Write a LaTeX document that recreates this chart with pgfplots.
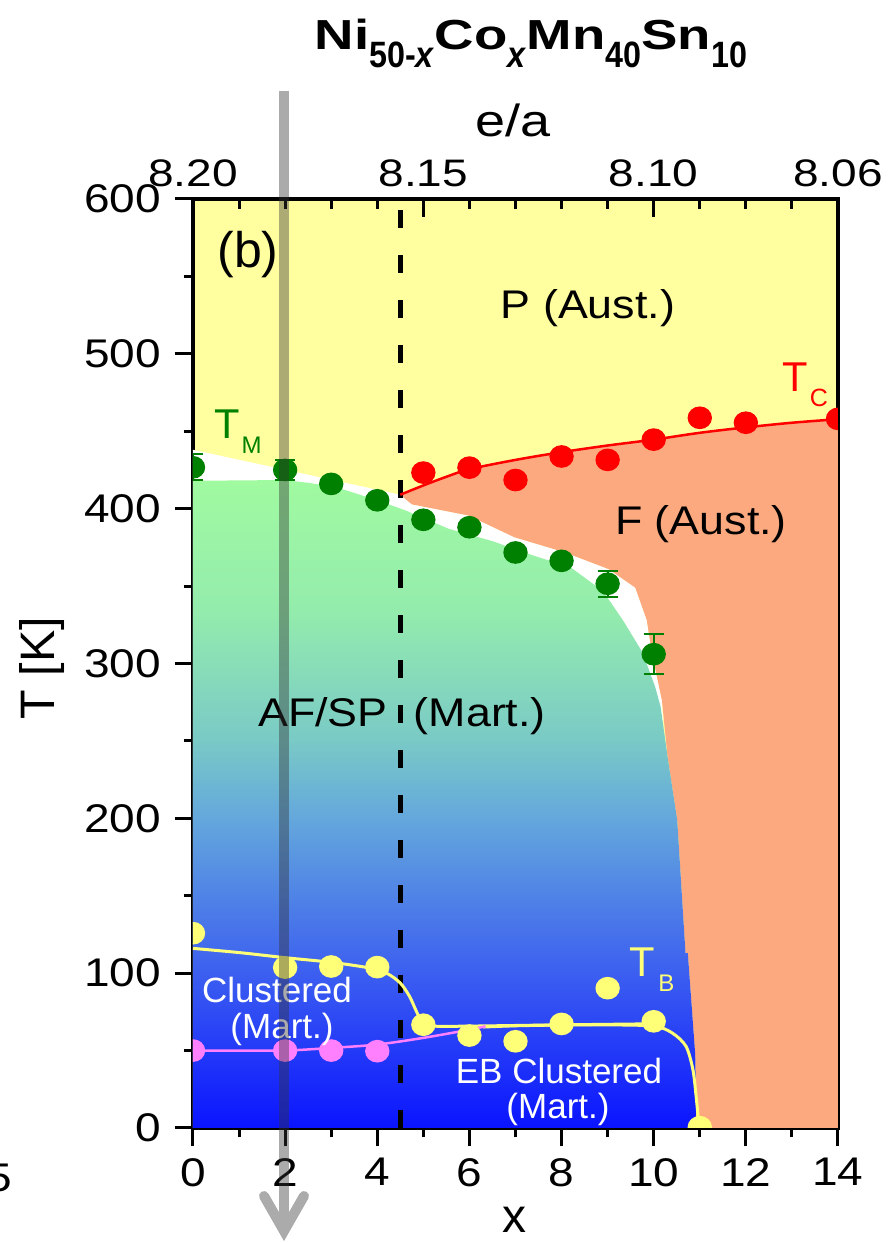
\documentclass[border=0pt]{standalone}
\usepackage{fontspec}
\setmainfont{Liberation Sans}
\usepackage{graphicx}
\usepackage{pgfplots}
\pgfplotsset{compat=1.18}

\definecolor{ybg}{RGB}{255,255,160}
\definecolor{salmon}{RGB}{252,169,127}
\definecolor{dgreen}{RGB}{0,128,0}
\definecolor{tby}{RGB}{255,255,119}
\definecolor{pinkc}{RGB}{255,128,255}
\definecolor{barc}{RGB}{51,51,51}
\definecolor{arrc}{RGB}{171,171,171}
\definecolor{g0}{RGB}{10,20,255}
\definecolor{g1}{RGB}{60,95,240}
\definecolor{g2}{RGB}{100,168,220}
\definecolor{g3}{RGB}{122,202,198}
\definecolor{g4}{RGB}{148,236,172}
\definecolor{g5}{RGB}{160,250,160}
\pgfdeclareverticalshading{mart}{100bp}{color(0bp)=(g0); color(25bp)=(g0); color(37bp)=(g1); color(49bp)=(g2); color(55bp)=(g3); color(65bp)=(g4); color(75bp)=(g5); color(100bp)=(g5)}

\newcommand{\tsub}[1]{\raisebox{-5.4pt}{\fontsize{11}{11}\selectfont\bfseries\scalebox{0.88}[1]{#1}}}
\newcommand{\tbig}[1]{\scalebox{1.3}[1]{#1}}

\begin{document}
\begin{tikzpicture}
\begin{axis}[
  at={(0,0)}, anchor=south west,
  scale only axis, width=193.5pt, height=278.7pt,
  xmin=0, xmax=14, ymin=0, ymax=600,
  axis background/.style={fill=ybg},
  axis line style={line width=1.3pt, black},
  xtick={0,2,...,14}, minor x tick num=1,
  ytick={0,100,...,600}, minor y tick num=1,
  xtick pos=bottom, ytick pos=left,
  tick align=outside,
  major tick length=5.5pt, minor tick length=2.8pt,
  every tick/.append style={black, line width=0.9pt},
  every minor tick/.append style={black, line width=0.9pt},
  tick label style={font=\fontsize{12}{12}\selectfont, xscale=1.15},
  /pgf/number format/assume math mode=true,
  clip marker paths=true,
]
% white band
\addplot[draw=none, fill=white] coordinates {(0,438) (4.5,409) (4.75,402.8) (5.98,395.6) (6.98,381.5) (8.05,372) (9.02,361) (9.6,349) (9.85,328) (9.96,307) (10.18,276) (10.6,0) (0,0)} -- cycle;
% salmon F region
\addplot[draw=none, fill=salmon] coordinates {(4.5,409) (5,415) (5.5,420.6) (6,425.5) (7,431.5) (8,436.5) (9,440.8) (10,444.6) (11,449) (12,452.5) (13,455.5) (14,457.8) (14,0) (10.93,0) (10.9,48) (10.74,113) (10.69,113) (10.51,199) (10.3,240) (10.18,276) (9.96,307) (9.85,328) (9.6,349) (9.02,361) (8.05,372) (6.98,381.5) (5.98,395.6) (4.75,402.8)} -- cycle;
% gradient martensite region
\addplot[draw=none, shading=mart] coordinates {(0,418) (2,418.5) (2.6,416.3) (3.2,413) (4,405.4) (4.6,399) (5.55,387) (6.5,379) (7.4,369.6) (8.2,362) (8.9,346.7) (9.33,328) (9.76,307) (10.03,285) (10.15,272) (10.3,240) (10.51,199) (10.69,113) (10.74,113) (10.9,48) (10.93,0) (0,0)} -- cycle;
% dashed line
\addplot[black, line width=1.5pt, dash pattern=on 5.4pt off 8.1pt] coordinates {(4.5,0) (4.5,600)};
% curves
\addplot[red, line width=0.75pt, smooth] coordinates {(4.5,409) (5,415) (5.5,420.6) (6,425.5) (7,431.5) (8,436.5) (9,440.8) (10,444.6) (11,449) (12,452.5) (13,455.5) (14,457.8)};
\addplot[tby, line width=0.9pt, smooth, tension=0.5] coordinates {(0,116) (1,113.3) (2,110) (3,107) (3.8,103.5) (4.2,100) (4.5,93.6) (4.7,85) (4.85,75.3) (5,67) (5.3,65.7) (6,65.8) (8,66.6) (10,67.3)};
\addplot[tby, line width=0.9pt, smooth, tension=0.5] coordinates {(6.3,65.2) (7,66) (8,66.5) (9,66.6) (10,65.8) (10.4,61.4) (10.7,52.8) (10.85,37.8) (10.92,20.6) (10.97,5.6) (11,0)};
\addplot[pinkc, line width=0.75pt, smooth] coordinates {(0,50) (1,50) (2,50) (3,51.7) (4,53.9) (5,58.2) (6,63.5) (6.35,65.7)};
% T_M points
\addplot[only marks, mark=*, mark size=3.2pt, mark options={fill=dgreen, draw=dgreen, xscale=1.08}] coordinates {(3,416) (4,405.4) (5,392.8) (6,388) (7,371.7) (8,366.3)};
\addplot[only marks, mark=*, mark size=3.2pt, mark options={fill=dgreen, draw=dgreen, xscale=1.08},
  error bars/.cd, y dir=both, y explicit,
  error bar style={dgreen, line width=0.6pt},
  error mark options={rotate=90, mark size=3pt, dgreen, line width=0.6pt}]
  coordinates {(0,426.7) +- (0,8.5) (2,425) +- (0,6.3) (9,351.5) +- (0,8.5) (10,306) +- (0,13)};
% T_C points
\addplot[only marks, mark=*, mark size=3.2pt, mark options={fill=red, draw=red, xscale=1.08}] coordinates {(5,423.3) (6,426.5) (7,418.5) (8,433.7) (9,431.5) (10,444.6) (11,458.7) (12,455.5) (14,458)};
% T_B points
\addplot[only marks, mark=*, mark size=3.2pt, mark options={fill=tby, draw=tby, xscale=1.08}] coordinates {(0,125.8) (2,103.6) (3,104.3) (4,103.9) (5,66.7) (6,59.7) (7,56) (8,67.2) (9,90.3) (10,68.9) (11,0.5)};
% pink points
\addplot[only marks, mark=*, mark size=3.2pt, mark options={fill=pinkc, draw=pinkc, xscale=1.08}] coordinates {(0,50) (2,50) (3,50) (4,49.6)};
\end{axis}

\begin{axis}[
  at={(0,0)}, anchor=south west,
  scale only axis, width=193.5pt, height=278.7pt,
  xmin=0, xmax=14, ymin=0, ymax=600,
  axis x line*=top, axis y line=none,
  axis line style={line width=1.3pt, black},
  xtick={0,5,10,14}, xticklabels={8.20,8.15,8.10,8.06},
  minor xtick={1,2,3,4,6,7,8,9,11,12,13},
  tick align=inside,
  major tick length=5.4pt, minor tick length=3pt,
  every tick/.append style={black, line width=0.9pt},
  every minor tick/.append style={black, line width=0.9pt},
  tick label style={font=\fontsize{11.5}{11.5}\selectfont, xscale=1.2},
]
\addplot[draw=none] coordinates {(0,0)};
\end{axis}

\begin{scope}[shift={(-57.9pt,338.4pt)}, x=0.3pt, y=-0.3pt]
% title and labels
\node[anchor=base west, inner sep=0] at (314,50) {\fontsize{12.6}{12.6}\selectfont\bfseries \tbig{Ni}\tsub{50-\textit{x}}\tbig{Co}\tsub{\textit{x}}\tbig{Mn}\tsub{40}\tbig{Sn}\tsub{10}};
\node[anchor=base, xscale=1.2] at (513,136.7) {\fontsize{13.5}{13.5}\selectfont e/a};
\node[anchor=base] at (514,1233) {\fontsize{14.4}{14.4}\selectfont x};
\node[rotate=90] at (42.5,668) {\fontsize{14.5}{14.5}\selectfont T [K]};
\node[anchor=east, inner sep=0, xscale=1.15] at (13,1178) {\fontsize{12}{12}\selectfont 5};
% in-plot labels
\node at (248,255) {\fontsize{15}{15}\selectfont (b)};
\node[xscale=1.12] at (588,308) {\fontsize{12}{12}\selectfont P (Aust.)};
\node[xscale=1.12] at (701,524) {\fontsize{12}{12}\selectfont F (Aust.)};
\node[xscale=1.12] at (402,716) {\fontsize{12}{12}\selectfont AF/SP\hspace{7pt}(Mart.)};
\node[white] at (277,990) {\fontsize{10.5}{10.5}\selectfont Clustered};
\node[white] at (282,1029) {\fontsize{10.5}{10.5}\selectfont (Mart.)};
\node[white] at (559,1071) {\fontsize{10.5}{10.5}\selectfont EB Clustered};
\node[white] at (558,1109) {\fontsize{10.5}{10.5}\selectfont (Mart.)};
\node[anchor=base west, inner sep=0, text=dgreen] at (213.5,438.3) {\fontsize{12.5}{12.5}\selectfont T\hspace{0.6pt}\raisebox{-4.5pt}{\fontsize{7.2}{7.2}\selectfont M}};
\node[anchor=base west, inner sep=0, text=red] at (781.7,391.7) {\fontsize{12.5}{12.5}\selectfont T\hspace{0.6pt}\raisebox{-4.5pt}{\fontsize{7.5}{7.5}\selectfont C}};
\node[anchor=base west, inner sep=0, text=tby] at (629,976.7) {\fontsize{12.5}{12.5}\selectfont T\hspace{1pt}\raisebox{-4.5pt}{\fontsize{7.2}{7.2}\selectfont B}};
% gray arrow
\draw[barc, opacity=0.41, line width=3pt] (284,91) -- (284,1190);
\draw[arrc, line width=3pt] (284,1190) -- (284,1232);
\draw[arrc, line width=3pt, line cap=round, line join=miter] (264,1196) -- (284,1231) -- (304,1196);
\pgfresetboundingbox
\useasboundingbox (0,0) rectangle (887,1243);
\end{scope}
\end{tikzpicture}
\end{document}
